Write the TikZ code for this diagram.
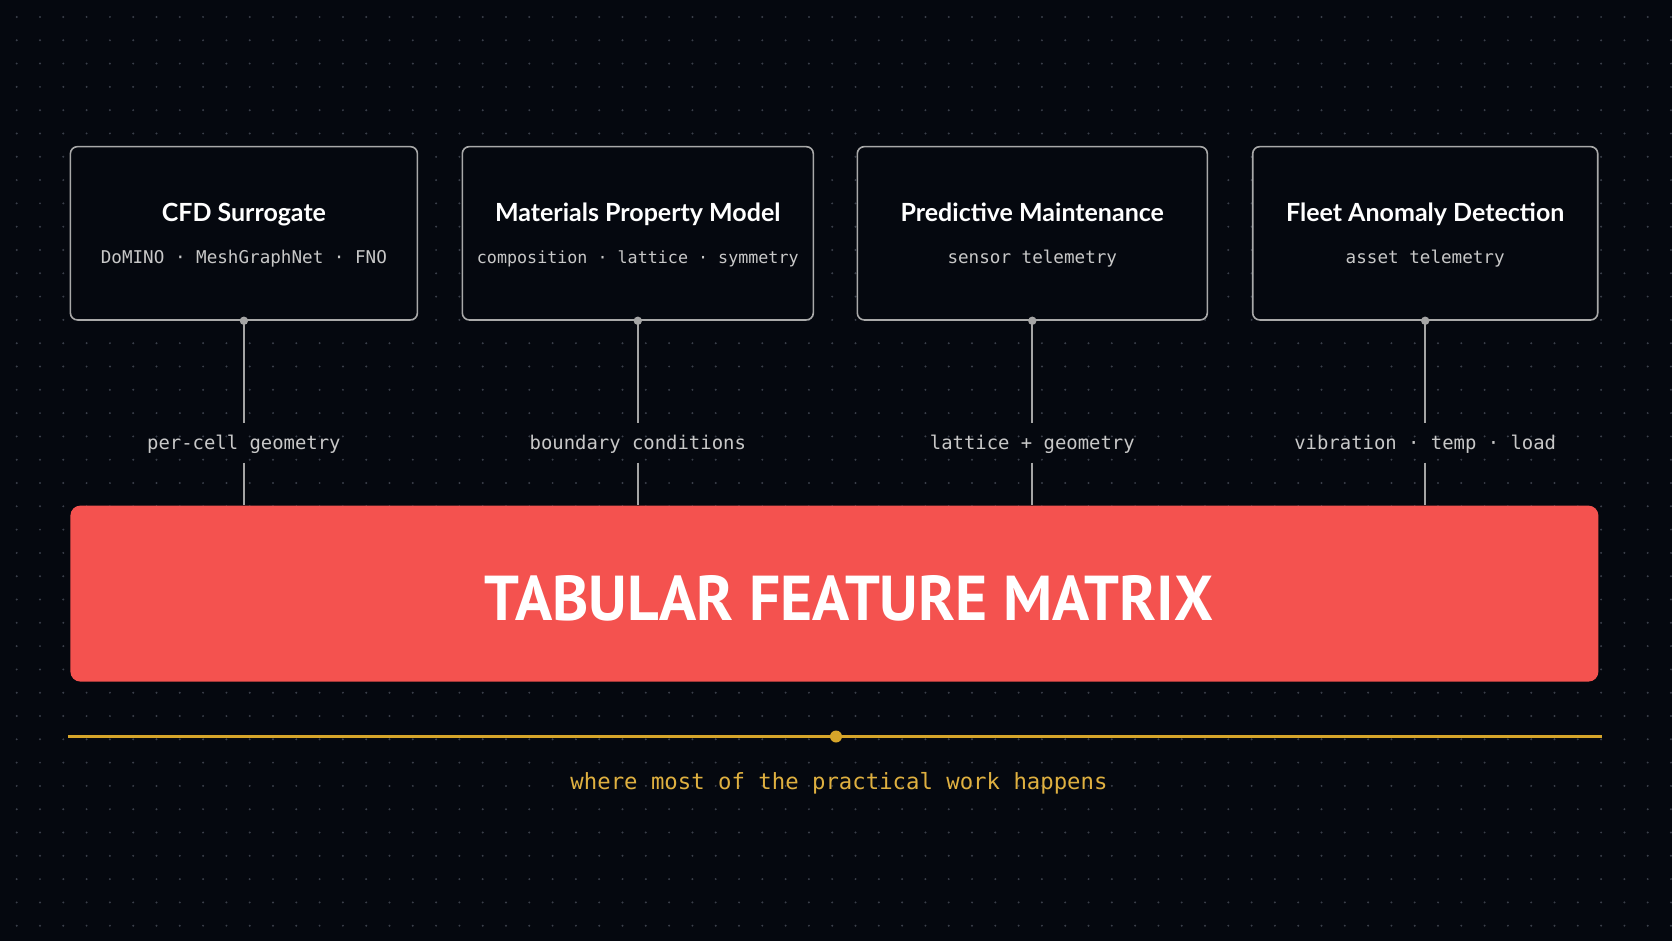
\documentclass[tikz,border=0pt]{standalone}
\usepackage{graphicx}
\usepackage{fontspec}
\setmainfont{Lato}
\newfontfamily\headfont{Lato}
\newfontfamily\codefont{DejaVu Sans Mono}
\newfontfamily\bannerfont{PT Sans}
\definecolor{bg}{HTML}{05080F}
\definecolor{griddot}{HTML}{3A3F4A}
\definecolor{cardline}{HTML}{A9A9A9}
\definecolor{connline}{HTML}{A5A5A5}
\definecolor{subtext}{HTML}{C8C8C8}
\definecolor{bannerred}{HTML}{F4524F}
\definecolor{goldline}{HTML}{D6A52A}
\definecolor{goldtext}{HTML}{DFB040}
\tikzset{
  card/.style={draw=cardline, line width=1.6pt, rounded corners=7pt, fill=bg, inner sep=0pt},
  cardtitle/.style={anchor=base, inner sep=0pt, text=white, font=\headfont\bfseries\fontsize{25}{30}\selectfont},
  cardsub/.style={anchor=base, inner sep=0pt, text=subtext, font=\codefont\fontsize{17.6}{21}\selectfont},
  flowlabel/.style={anchor=base, inner xsep=0pt, inner ysep=12.3pt, text height=14pt, text depth=1pt, text=subtext, font=\codefont\fontsize{18.9}{22}\selectfont},
  conn/.style={draw=connline, line width=1.8pt},
  banner/.style={fill=bannerred, rounded corners=10pt, inner sep=0pt},
  bannertext/.style={inner sep=0pt, text=white, font=\bannerfont\bfseries},
  goldrule/.style={draw=goldline, line width=2.2pt},
  goldnote/.style={anchor=base, inner sep=0pt, text=goldtext, font=\codefont\fontsize{22.3}{26}\selectfont}
}
\begin{document}
\begin{tikzpicture}[x=1pt,y=-1pt]
\fill[bg] (0,0) rectangle (1672,941);
\useasboundingbox (0,0) rectangle (1672,941);
% dot grid
\foreach \i in {0,...,71}{
  \foreach \j in {0,...,39}{
    \fill[griddot] (16.7+23.3*\i, 17+23.3*\j) circle (1.1);
  }
}
% cards
\node[card, minimum width=347pt, minimum height=173.3pt] (b1) at (243.9,233.3) {};
\node[card, minimum width=351pt, minimum height=173.3pt] (b2) at (637.8,233.3) {};
\node[card, minimum width=350pt, minimum height=173.3pt] (b3) at (1032.3,233.3) {};
\node[card, minimum width=345pt, minimum height=173.3pt] (b4) at (1425.2,233.3) {};
\node[cardtitle] (t1) at (243.9,221.7) {CFD Surrogate};
\node[cardtitle] (t2) at (637.8,221.7) {Materials Property Model};
\node[cardtitle] (t3) at (1032.3,221.7) {Predictive Maintenance};
\node[cardtitle] (t4) at (1425.2,221.7) {Fleet Anomaly Detection};
\node[cardsub] (s1) at (243.9,264) {DoMINO · MeshGraphNet · FNO};
\node[cardsub, font=\codefont\fontsize{16.7}{20}\selectfont] (s2) at (637.8,264) {composition · lattice · symmetry};
\node[cardsub] (s3) at (1032.3,264) {sensor telemetry};
\node[cardsub] (s4) at (1425.2,264) {asset telemetry};
% banner
\node[banner, minimum width=1528pt, minimum height=176pt] (mx) at (834.4,593.6) {};
\node[bannertext] (mxt) at (849,598.5) {\resizebox{728pt}{45pt}{TABULAR FEATURE MATRIX}};
% labels
\node[flowlabel] (l1) at (243.9,449) {per-cell geometry};
\node[flowlabel] (l2) at (637.8,449) {boundary conditions};
\node[flowlabel] (l3) at (1032.3,449) {lattice + geometry};
\node[flowlabel] (l4) at (1425.2,449) {vibration · temp · load};
% connectors
\foreach \k in {1,2,3,4}{
  \draw[conn] (b\k.south) -- (l\k.north);
  \draw[conn] (l\k.south) -- (l\k.south |- mx.north);
  \fill[connline] (b\k.south) circle (4.2);
}
% gold rule
\coordinate (gl) at (68,736.5);
\coordinate (gr) at (1602,736.5);
\draw[goldrule] (gl) -- (gr);
\node[circle, fill=goldline, minimum size=12pt, inner sep=0pt] (gd) at (836,736.5) {};
\node[goldnote] (gn) at (839,789) {where most of the practical work happens};
\end{tikzpicture}
\end{document}
